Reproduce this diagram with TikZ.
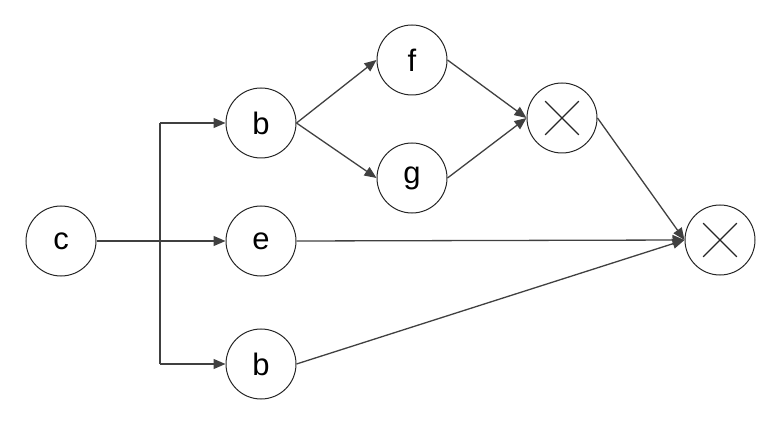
\documentclass[tikz,border=0pt]{standalone}
\usepackage{fontspec}
\setmainfont{Liberation Sans}
\usetikzlibrary{arrows.meta,calc}

\begin{document}
\begin{tikzpicture}[x=1pt,y=-1pt,font=\fontsize{31}{36}\selectfont,
  op/.style={draw=black!85,line width=1pt,circle,minimum size=70pt,inner sep=0pt},
  mult/.style={op},
  arr/.style={draw=black!75,line width=1.3pt,-{Triangle[length=12pt,width=10pt]}},
  wire/.style={draw=black!75,line width=1.3pt}]
\useasboundingbox (0,0) rectangle (780,425);
\node[op] (c) at (61,241) {c};
\node[op] (b1) at (261,123) {b};
\node[op] (e) at (261,241) {e};
\node[op] (b2) at (261,364) {b};
\node[op] (f) at (412,60) {f};
\node[op] (g) at (412,178) {g};
\node[mult] (m1) at (562,118) {};
\node[mult] (m2) at (720,240) {};
\coordinate (forktop) at (160,123);
\coordinate (forkbot) at (160,364);
% crosses inside the product nodes
\foreach \m in {m1,m2}{
  \draw[line width=1.3pt,black!85] ($(\m.center)!0.67!(\m.north west)$) -- ($(\m.center)!0.67!(\m.south east)$);
  \draw[line width=1.3pt,black!85] ($(\m.center)!0.67!(\m.north east)$) -- ($(\m.center)!0.67!(\m.south west)$);
}
\draw[arr] (c.east) -- (e.west);
\draw[wire] (forktop) -- (forkbot);
\draw[arr] (forktop) -- (b1.west);
\draw[arr] (forkbot) -- (b2.west);
\draw[arr] (b1.east) -- (f.west);
\draw[arr] (b1.east) -- (g.west);
\draw[arr] (f.east) -- (m1.west);
\draw[arr] (g.east) -- (m1.west);
\draw[arr] (m1.east) -- (m2.west);
\draw[arr] (e.east) -- (m2.west);
\draw[arr] (b2.east) -- (m2.west);
\end{tikzpicture}
\end{document}
